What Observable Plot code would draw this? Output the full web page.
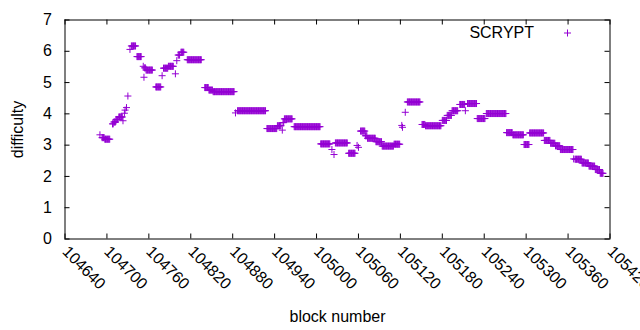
<!DOCTYPE html>
<html><head><meta charset="utf-8">
<script src="https://cdn.jsdelivr.net/npm/d3@7"></script>
<script src="https://cdn.jsdelivr.net/npm/@observablehq/plot@0.6"></script>
<style>body{margin:0;background:#fff}#chart svg{display:block}</style>
</head><body><div id="chart"></div>
<script>
// Runs of constant difficulty: first block, last block, value
const runStart = [104690,104693,104697,104708,104710,104713,104717,104723,104725,104726,104728,104730,104733,104735,104743,104752,104753,104754,104756,104770,104779,104781,104788,104798,104800,104802,104806,104815,104840,104846,104852,104884,104887,104929,104944,104951,104952,104954,104968,105006,105022,105025,105027,105046,105058,105060,105063,105070,105073,105085,105094,105111,105122,105123,105127,105130,105151,105156,105180,105187,105194,105205,105213,105216,105230,105243,105272,105281,105297,105305,105326,105335,105342,105349,105368,105370,105380,105390,105399,105406];
const runEnd   = [104690,104696,104704,104709,104712,104716,104722,104723,104725,104726,104728,104730,104733,104741,104749,104752,104753,104755,104765,104777,104779,104787,104795,104798,104800,104804,104810,104835,104845,104851,104882,104884,104927,104943,104949,104951,104953,104965,105005,105019,105022,105025,105044,105055,105058,105060,105069,105072,105084,105093,105110,105119,105122,105123,105127,105148,105155,105178,105186,105193,105202,105212,105213,105229,105241,105271,105280,105296,105304,105325,105334,105341,105348,105367,105368,105379,105389,105398,105405,105410];
const runValue = [3.33,3.24,3.19,3.68,3.74,3.82,3.9,3.78,4.02,4.12,4.2,4.57,6.06,6.17,5.83,5.52,5.17,5.47,5.4,4.86,5.22,5.46,5.52,5.28,5.7,5.88,5.97,5.73,4.84,4.76,4.71,4.03,4.1,3.53,3.62,3.48,3.72,3.84,3.59,3.04,2.86,2.7,3.07,2.74,2.99,2.93,3.45,3.3,3.22,3.11,2.97,3.03,3.63,3.57,4.05,4.38,3.66,3.62,3.79,3.95,4.1,4.3,4.1,4.33,3.85,4.01,3.4,3.33,3.02,3.39,3.15,3.06,2.98,2.86,2.56,2.55,2.43,2.33,2.22,2.1];
const xTicks = [104640,104700,104760,104820,104880,104940,105000,105060,105120,105180,105240,105300,105360,105420];
const yTicks = [0,1,2,3,4,5,6,7];
const seriesName = "SCRYPT";
const xLabel = "block number";
const yLabel = "difficulty";

const data = runStart.flatMap((s, i) => d3.range(s, runEnd[i] + 1).map(b => ({block: b, difficulty: runValue[i]})));

const W = 640, H = 330, mL = 64.5, mR = 30.5, mT = 19.5, mB = 91.5;
const innerW = W - mL - mR, innerH = H - mT - mB;
const purple = "#9400d3";

const chart = Plot.plot({
  width: W, height: H,
  marginLeft: mL, marginRight: mR, marginTop: mT, marginBottom: mB,
  style: {fontFamily: "'Liberation Sans', Arial, sans-serif", fontSize: "16px", color: "#000", background: "#fff", overflow: "visible"},
  x: {domain: [104640, 105420]},
  y: {domain: [0, 7]},
  marks: [
    Plot.axisX(xTicks, {anchor: "bottom", tickSize: 0, tickPadding: 10, tickRotate: 45, tickFormat: d => String(d), fontSize: 16,
      label: xLabel, labelAnchor: "center", labelArrow: "none", labelOffset: 83}),
    Plot.axisY(yTicks, {anchor: "left", tickSize: 0, tickPadding: 13, tickFormat: d => String(d), fontSize: 16,
      label: yLabel, labelAnchor: "center", labelArrow: "none", labelOffset: 53}),
    Plot.tickX(xTicks, {x: d => d, insetTop: innerH - 5, stroke: "#000"}),
    Plot.tickX(xTicks, {x: d => d, insetBottom: innerH - 5, stroke: "#000"}),
    Plot.tickY(yTicks, {y: d => d, insetRight: innerW - 5, stroke: "#000"}),
    Plot.tickY(yTicks, {y: d => d, insetLeft: innerW - 5, stroke: "#000"}),
    Plot.dot(data, {x: "block", y: "difficulty", symbol: "plus", r: 2.4, stroke: purple, strokeWidth: 1}),
    Plot.frame({stroke: "#000"}),
    Plot.text([seriesName], {text: d => d, frameAnchor: "top-right", dx: -76, dy: 13, textAnchor: "end", lineAnchor: "middle", fontSize: 16, fill: "#000"}),
    Plot.dot([seriesName], {frameAnchor: "top-right", dx: -42.5, dy: 13, symbol: "plus", r: 2.4, stroke: purple, strokeWidth: 1})
  ]
});
document.getElementById("chart").appendChild(chart);
</script>
</body></html>
